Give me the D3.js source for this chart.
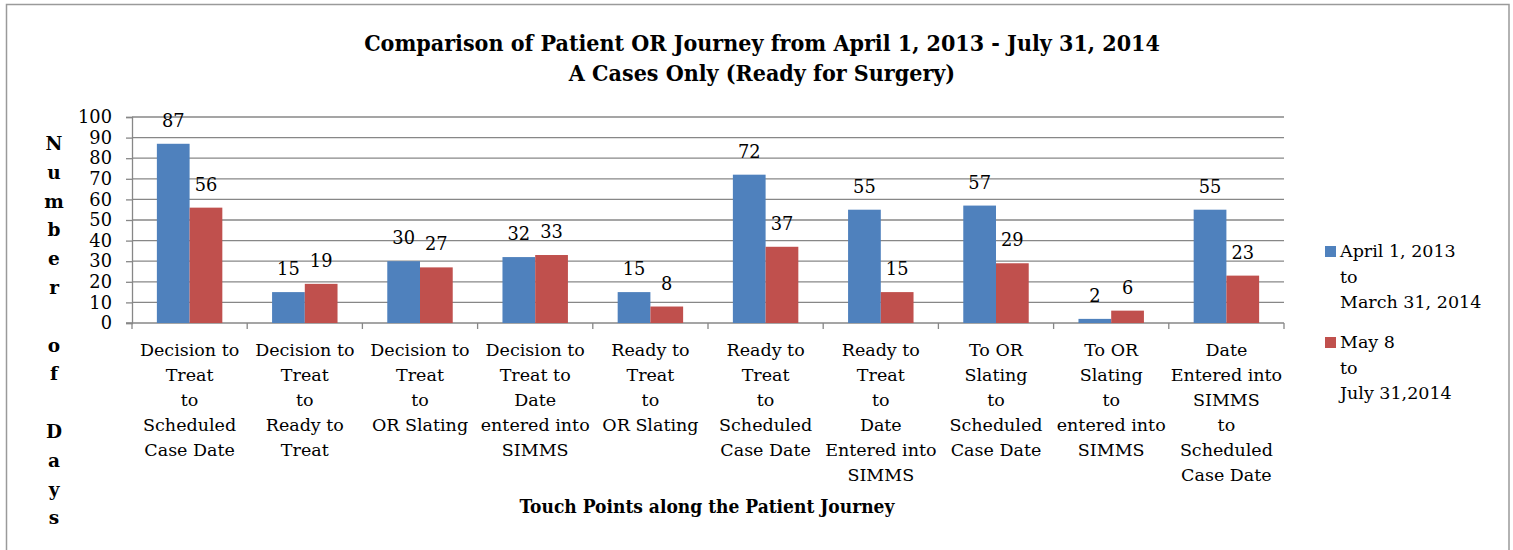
<!DOCTYPE html>
<html>
<head>
<meta charset="utf-8">
<script src="https://cdn.jsdelivr.net/npm/d3@7"></script>
<style>
  html, body { margin: 0; padding: 0; background: #fff; }
  svg { display: block; }
  text { font-family: "DejaVu Serif", serif; fill: #000; }
</style>
</head>
<body>
<div id="chart"></div>
<script>
// categories (one array of lines per touch point)
const categories = [
  ['Decision to', 'Treat', 'to', 'Scheduled', 'Case Date'],
  ['Decision to', 'Treat', 'to', 'Ready to', 'Treat'],
  ['Decision to', 'Treat', 'to', 'OR Slating'],
  ['Decision to', 'Treat to', 'Date', 'entered into', 'SIMMS'],
  ['Ready to', 'Treat', 'to', 'OR Slating'],
  ['Ready to', 'Treat', 'to', 'Scheduled', 'Case Date'],
  ['Ready to', 'Treat', 'to', 'Date', 'Entered into', 'SIMMS'],
  ['To OR', 'Slating', 'to', 'Scheduled', 'Case Date'],
  ['To OR', 'Slating', 'to', 'entered into', 'SIMMS'],
  ['Date', 'Entered into', 'SIMMS', 'to', 'Scheduled', 'Case Date']
];

const seriesNames = ['April 1, 2013 to March 31, 2014', 'May 8 to July 31,2014'];
const legendLines = [
  ['April 1, 2013', 'to', 'March 31, 2014'],
  ['May 8', 'to', 'July 31,2014']
];
const period1 = [87, 15, 30, 32, 15, 72, 55, 57, 2, 55];
const period2 = [56, 19, 27, 33, 8, 37, 15, 29, 6, 23];
const yTicks = [0, 10, 20, 30, 40, 50, 60, 70, 80, 90, 100];

const titleLines = [
  'Comparison of Patient OR Journey from April 1, 2013 - July 31, 2014',
  'A Cases Only (Ready for Surgery)'
];
const xTitle = 'Touch Points along the Patient Journey';
const yTitle = 'Number of Days';

const colors = ['#4F81BD', '#C0504D'];

const width = 1513, height = 550;
const plot = { left: 132, right: 1284, top: 117, bottom: 323 };

const svg = d3.select('#chart').append('svg')
  .attr('width', width)
  .attr('height', height);

// cadre du graphique
svg.append('rect')
  .attr('x', 6.5).attr('y', 4.5)
  .attr('width', 1502.5).attr('height', 600)
  .attr('fill', 'none')
  .attr('stroke', '#9a9a9a')
  .attr('stroke-width', 1.5);

const idx = d3.range(categories.length);

const x0 = d3.scaleBand()
  .domain(idx)
  .range([plot.left, plot.right])
  .padding(0);

const x1 = d3.scaleBand()
  .domain([0, 1])
  .range([0, x0.bandwidth()])
  .paddingInner(0)
  .paddingOuter(0.76);

const y = d3.scaleLinear()
  .domain([0, 100])
  .range([plot.bottom, plot.top]);

// grille horizontale
svg.append('g')
  .selectAll('line')
  .data(yTicks.filter(t => t > 0))
  .enter()
  .append('line')
  .attr('x1', plot.left)
  .attr('x2', plot.right)
  .attr('y1', d => y(d))
  .attr('y2', d => y(d))
  .attr('stroke', '#878787')
  .attr('stroke-width', 1.3);

// axe Y
const yAxis = d3.axisLeft(y)
  .tickValues(yTicks)
  .tickSize(6)
  .tickPadding(14);

const gy = svg.append('g')
  .attr('transform', `translate(${plot.left},0)`)
  .call(yAxis);
gy.select('.domain').attr('stroke', '#878787').attr('stroke-width', 1.3);
gy.selectAll('.tick line').attr('stroke', '#878787').attr('stroke-width', 1.3);
gy.selectAll('.tick text')
  .attr('font-family', '"DejaVu Serif", serif')
  .attr('font-size', '17.8px')
  .attr('fill', '#000');

// axe X
const gx = svg.append('g')
  .attr('transform', `translate(0,${plot.bottom})`);
gx.append('line')
  .attr('x1', plot.left - 6)
  .attr('x2', plot.right)
  .attr('stroke', '#878787')
  .attr('stroke-width', 1.3);
gx.selectAll('.cat-tick')
  .data(d3.range(categories.length + 1))
  .enter()
  .append('line')
  .attr('class', 'cat-tick')
  .attr('x1', d => plot.left + d * x0.step())
  .attr('x2', d => plot.left + d * x0.step())
  .attr('y1', 0)
  .attr('y2', 6)
  .attr('stroke', '#878787')
  .attr('stroke-width', 1.3);

// libellés des catégories
const catLabels = svg.append('g')
  .selectAll('text')
  .data(categories)
  .enter()
  .append('text')
  .attr('text-anchor', 'middle')
  .attr('font-size', '17.5px')
  .attr('transform', (d, i) => `translate(${x0(i) + x0.bandwidth() / 2},356)`);

catLabels.selectAll('tspan')
  .data(d => d)
  .enter()
  .append('tspan')
  .attr('x', 0)
  .attr('y', (d, i) => i * 25)
  .text(d => d);

// barres
const series = [period1, period2];
series.forEach((vals, s) => {
  svg.append('g')
    .selectAll('rect')
    .data(vals)
    .enter()
    .append('rect')
    .attr('x', (d, i) => x0(i) + x1(s))
    .attr('y', d => y(d))
    .attr('width', x1.bandwidth())
    .attr('height', d => y(0) - y(d))
    .attr('fill', colors[s]);

  // valeurs
  svg.append('g')
    .selectAll('text')
    .data(vals)
    .enter()
    .append('text')
    .attr('x', (d, i) => x0(i) + x1(s) + x1.bandwidth() / 2)
    .attr('y', d => y(d) - 17)
    .attr('text-anchor', 'middle')
    .attr('font-size', '17.8px')
    .text(d => d);
});

// titre
svg.append('g')
  .selectAll('text')
  .data(titleLines)
  .enter()
  .append('text')
  .attr('x', 762)
  .attr('y', (d, i) => 51 + i * 30)
  .attr('text-anchor', 'middle')
  .attr('font-family', '"DejaVu Serif Condensed", "DejaVu Serif", serif')
  .attr('font-stretch', 'condensed')
  .attr('font-weight', 'bold')
  .attr('font-size', '23px')
  .text(d => d);

// titre axe X
svg.append('text')
  .attr('x', 707)
  .attr('y', 513)
  .attr('text-anchor', 'middle')
  .attr('font-family', '"DejaVu Serif Condensed", "DejaVu Serif", serif')
  .attr('font-stretch', 'condensed')
  .attr('font-weight', 'bold')
  .attr('font-size', '19px')
  .text(xTitle);

// titre axe Y : une lettre par ligne
svg.append('g')
  .selectAll('text')
  .data(yTitle.split(''))
  .enter()
  .append('text')
  .attr('x', 54)
  .attr('y', (d, i) => 150 + i * 28.8)
  .attr('text-anchor', 'middle')
  .attr('font-weight', 'bold')
  .attr('font-size', '18.5px')
  .text(d => d === ' ' ? '' : d);

// légende
const legend = svg.append('g')
  .attr('transform', 'translate(1325,0)');

legendLines.forEach((lines, s) => {
  const top = s === 0 ? 246 : 337;
  legend.append('rect')
    .attr('x', 0)
    .attr('y', top)
    .attr('width', 11)
    .attr('height', 11)
    .attr('fill', colors[s]);
  const t = legend.append('text')
    .attr('font-size', '17.5px');
  t.selectAll('tspan')
    .data(lines)
    .enter()
    .append('tspan')
    .attr('x', 15)
    .attr('y', (d, i) => top + 11 + i * 25.5)
    .text(d => d);
});
</script>
</body>
</html>
